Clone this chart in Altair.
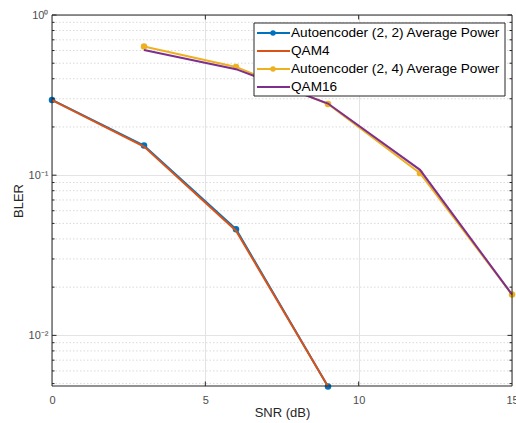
import altair as alt
import pandas as pd

# SNR points (dB) and block error rates for each scheme
snr = [0, 3, 6, 9, 12, 15]
ae22 = [0.295, 0.153, 0.046, 0.0048]
qam4 = [0.294, 0.151, 0.045, 0.0048]
ae24 = [0.635, 0.474, 0.278, 0.103, 0.018]
qam16 = [0.605, 0.459, 0.280, 0.108, 0.018]

names = ["Autoencoder (2, 2) Average Power", "QAM4",
         "Autoencoder (2, 4) Average Power", "QAM16"]
colors = ["#0072BD", "#D95319", "#EDB120", "#7E2F8E"]
has_marker = [True, False, True, False]

x_ticks = [0, 5, 10, 15]
y_ticks = [0.01, 0.1, 1]

y_min, y_max = 0.00483, 1.0
W, H = 460, 371

rows = []
for name, xs, ys in [(names[0], snr[:4], ae22), (names[1], snr[:4], qam4),
                     (names[2], snr[1:], ae24), (names[3], snr[1:], qam16)]:
    for x, y in zip(xs, ys):
        rows.append({"series": name, "snr": x, "bler": y})
df = pd.DataFrame(rows)

xs = alt.Scale(domain=[0, 15], nice=False)
ys = alt.Scale(type="log", domain=[y_min, y_max], nice=False)

# dotted minor grid for the log axis
minor = [m * 10.0 ** k for k in (-3, -2, -1) for m in range(2, 10)]
minor = [v for v in minor if y_min <= v <= y_max]
minor_df = pd.DataFrame({"v": minor})
minor_grid = alt.Chart(minor_df).mark_rule(
    color="#d0d0d0", strokeDash=[1.5, 2], strokeWidth=0.8
).encode(y=alt.Y("v:Q", scale=ys))

base = alt.Chart(df)
x_enc = alt.X("snr:Q", scale=xs, title="SNR (dB)",
              axis=alt.Axis(values=x_ticks, grid=True, gridColor="#e3e3e3",
                            ticks=False, labelPadding=8, domain=False,
                            labelFlush=False,
                            titleY=26, titleBaseline="middle"))
y_enc = alt.Y("bler:Q", scale=ys, title="BLER",
              axis=alt.Axis(values=y_ticks, grid=True, gridColor="#e3e3e3",
                            ticks=False, labelPadding=4, domain=False,
                            labelFlush=False,
                            labelExpr="datum.value == 1 ? '10⁰' : datum.value == 0.1 ? '10⁻¹' : '10⁻²'",
                            titleX=-34, titleY=H / 2, titleAngle=-90,
                            titleAlign="center", titleBaseline="middle"))

layers = [minor_grid]
for name, col, mk in zip(names, colors, has_marker):
    sub = base.transform_filter(alt.datum.series == name)
    layers.append(sub.mark_line(color=col, strokeWidth=2, clip=False).encode(x=x_enc, y=y_enc))
    if mk:
        layers.append(sub.mark_circle(color=col, size=42, opacity=1).encode(x=x_enc, y=y_enc))

one = pd.DataFrame({"a": [0]})
# plot frame
frame = alt.Chart(one).mark_rect(fill=None, stroke="#262626", strokeWidth=1).encode(
    x=alt.value(0), x2=alt.value(W), y=alt.value(0), y2=alt.value(H))

# inward tick marks on all four sides
tick_style = dict(color="#262626", strokeWidth=1)
xt = alt.Chart(pd.DataFrame({"t": x_ticks[1:-1]}))
yt = alt.Chart(pd.DataFrame({"t": y_ticks}))
ym = alt.Chart(minor_df)
ticks = [
    xt.mark_rule(**tick_style).encode(x=alt.X("t:Q", scale=xs), y=alt.value(H), y2=alt.value(H - 4.5)),
    xt.mark_rule(**tick_style).encode(x=alt.X("t:Q", scale=xs), y=alt.value(0), y2=alt.value(4.5)),
    yt.mark_rule(**tick_style).encode(y=alt.Y("t:Q", scale=ys), x=alt.value(0), x2=alt.value(4.5)),
    yt.mark_rule(**tick_style).encode(y=alt.Y("t:Q", scale=ys), x=alt.value(W), x2=alt.value(W - 4.5)),
    ym.mark_rule(**tick_style).encode(y=alt.Y("v:Q", scale=ys), x=alt.value(0), x2=alt.value(2.5)),
    ym.mark_rule(**tick_style).encode(y=alt.Y("v:Q", scale=ys), x=alt.value(W), x2=alt.value(W - 2.5)),
]

# legend box in the upper right of the plot
leg = pd.DataFrame({"name": names, "color": colors, "marker": has_marker,
                    "i": range(4)})
leg["ly"] = 18 + leg["i"] * 18
box = alt.Chart(one).mark_rect(
    fill="white", stroke="#262626", strokeWidth=1
).encode(x=alt.value(202), x2=alt.value(453), y=alt.value(8), y2=alt.value(81))
legc = alt.Chart(leg)
leg_lines = legc.mark_rule(strokeWidth=2).encode(
    x=alt.value(205), x2=alt.value(238),
    y=alt.Y("ly:Q", scale=None),
    color=alt.Color("color:N", scale=None))
leg_dots = legc.transform_filter(alt.datum.marker).mark_circle(size=30, opacity=1).encode(
    x=alt.value(221), y=alt.Y("ly:Q", scale=None),
    color=alt.Color("color:N", scale=None))
leg_text = legc.mark_text(align="left", baseline="middle", fontSize=13.6,
                          font="Liberation Sans", color="#000000").encode(
    x=alt.value(239), y=alt.Y("ly:Q", scale=None), text="name:N")

chart = alt.layer(*layers, *ticks, frame, box, leg_lines, leg_dots, leg_text).properties(
    width=W, height=H,
    autosize=alt.AutoSizeParams(type="none"),
    padding={"left": 52, "top": 15, "right": 4, "bottom": 37},
    background="white",
).configure_view(stroke=None).configure_axis(
    labelFont="Liberation Sans", titleFont="Liberation Sans",
    labelFontSize=11, titleFontSize=13, labelColor="#4d4d4d",
    titleColor="#262626", titleFontWeight="normal"
)

chart.save("out.html", embed_options={"renderer": "svg", "actions": False})
